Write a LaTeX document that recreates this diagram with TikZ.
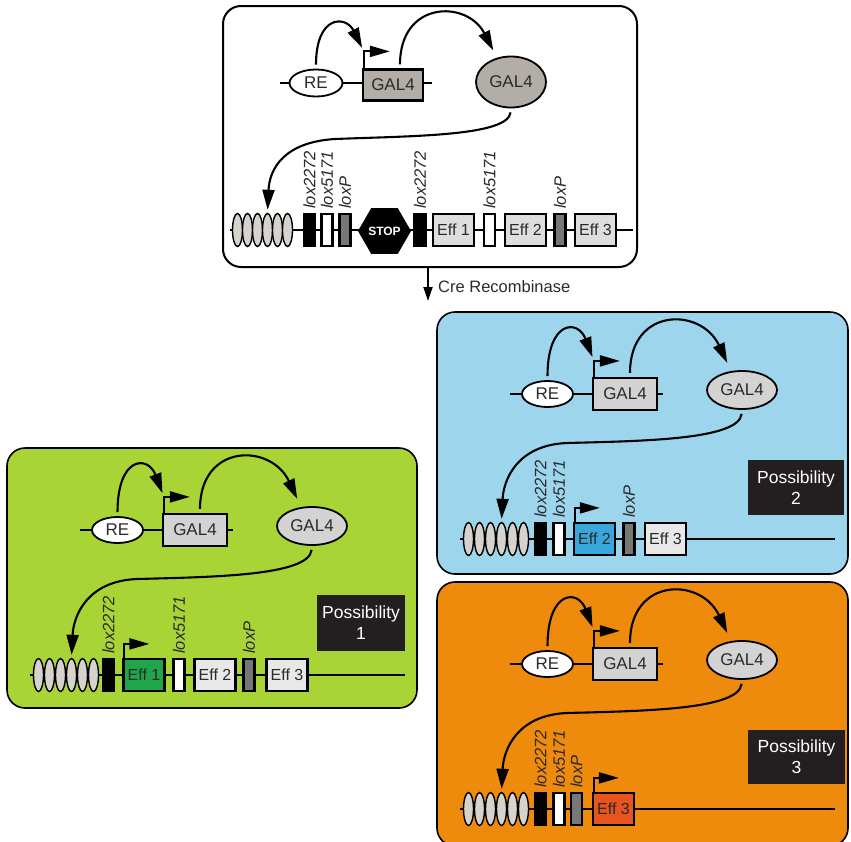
\documentclass[tikz,border=0pt]{standalone}
\usepackage{fontspec}
\setmainfont{Liberation Sans}
\usetikzlibrary{shapes.geometric,arrows.meta}

\definecolor{panelgreen}{HTML}{A8D436}
\definecolor{panelblue}{HTML}{9DD5EC}
\definecolor{panelorange}{HTML}{EE8A0C}
\definecolor{effgreen}{HTML}{1FA64B}
\definecolor{effblue}{HTML}{3AA7DC}
\definecolor{effred}{HTML}{E8541E}
\definecolor{galdark}{HTML}{B3ADA7}
\definecolor{gallight}{HTML}{D3D3D3}
\definecolor{ovalfill}{HTML}{D6D2CE}
\definecolor{effgray}{HTML}{DEDEDE}
\definecolor{efflight}{HTML}{E8E8E8}
\definecolor{loxgray}{HTML}{777777}
\definecolor{possfill}{HTML}{231F20}
\definecolor{txtgray}{HTML}{2A2A2A}

% upper regulator (RE -> GAL4 -> GAL4 protein) plus the UAS row of a result panel
\newcommand\driverunit[1]{%
  \draw[dna] (73,82) -- (226,82);
  \draw[dna] (23,227) -- (398,227);
  \foreach \k in {1,...,6} {\node[oval] (#1ov\k) at ({20.5+11*\k},227) {};}
  \node[renode, minimum width=51pt, minimum height=26pt] (#1re) at (110.5,82) {RE};
  \node[genebox, fill=gallight, minimum width=64pt, minimum height=32pt] (#1gene) at (188,82) {GAL4};
  \coordinate (#1bend) at ([xshift=2pt,yshift=16pt]#1gene.north west);
  \draw[promoter] ([xshift=2pt]#1gene.north west) -- (#1bend) -- ++(26,0);
  \node[protnode, fill=gallight, minimum width=70pt, minimum height=38pt] (#1prot) at (305,78) {GAL4};
  \draw[curvearrow, shorten >=4pt] (#1re.north) .. controls +(0,-60) and +(-16,-42) .. (#1bend);
  \draw[curvearrow, shorten >=9pt] ([xshift=5pt]#1gene.north) .. controls +(0,-70) and +(-30,-64) .. (#1prot.120);
  \coordinate (#1sweep) at (130,131);
  \draw[curvearrow, shorten >=3pt] (#1prot.south) .. controls +(-3,30) and +(75,-2) .. (#1sweep)
        .. controls +(-50,2) and +(2,-42) .. (#1ov4.north);
}

\begin{document}
\begin{tikzpicture}[x=1pt,y=-1pt,
  dna/.style={line width=2pt},
  panel/.style={draw=black, line width=1.6pt, rounded corners=18pt, inner sep=0pt},
  elem/.style={draw=black, line width=2.2pt, inner sep=0pt, minimum height=32pt},
  loxbox/.style={elem, minimum width=11pt},
  effbox/.style={elem, minimum width=41pt, text=txtgray, font=\fontsize{16}{16}\selectfont},
  genebox/.style={draw=black, line width=2.2pt, inner sep=0pt, text=txtgray, font=\fontsize{17}{18}\selectfont},
  oval/.style={ellipse, draw=black, line width=1.4pt, fill=ovalfill, minimum width=10pt, minimum height=33pt, inner sep=0pt},
  renode/.style={ellipse, draw=black, line width=1.8pt, fill=white, inner sep=0pt, text=txtgray, font=\fontsize{17}{18}\selectfont},
  protnode/.style={ellipse, draw=black, line width=1.8pt, inner sep=0pt, text=txtgray, font=\fontsize{17}{18}\selectfont},
  stopnode/.style={regular polygon, regular polygon sides=6, minimum size=53pt, inner sep=0pt, fill=black, text=white, font=\bfseries\fontsize{12}{12}\selectfont},
  curvearrow/.style={line width=2.1pt, -{Triangle[length=20pt,width=12pt]}, shorten <=4pt},
  promoter/.style={line width=2.1pt, -{Triangle[length=20pt,width=11pt]}},
  loxlabel/.style={rotate=90, anchor=west, inner sep=0pt, text=txtgray, font=\fontsize{16.5}{17}\selectfont\itshape},
  possbox/.style={fill=possfill, text=white, align=center, inner sep=0pt, font=\fontsize{17.5}{21}\selectfont}
]
\useasboundingbox (0,0) rectangle (851,841);

% ---------- panels ----------
\node[panel, fill=white, line width=2pt, minimum width=414pt, minimum height=261pt] (top) at (430,136.5) {};
\node[panel, fill=panelgreen, minimum width=410pt, minimum height=260pt] (green) at (212,578) {};
\node[panel, fill=panelblue, minimum width=411pt, minimum height=262pt] (blue) at (642.5,443) {};
\node[panel, fill=panelorange, minimum width=411pt, minimum height=264pt] (orange) at (642.5,714) {};

% ---------- starting construct ----------
\draw[dna] (280,83) -- (432,83);
\draw[dna] (230,230) -- (633,230);
\foreach \k in {1,...,6} {\node[oval] (t-ov\k) at ({227.5+10*\k},230) {};}
\node[renode, minimum width=53pt, minimum height=27pt] (t-re) at (316,83) {RE};
\node[genebox, fill=galdark, minimum width=60pt, minimum height=31pt] (t-gene) at (393,85) {GAL4};
\coordinate (t-bend) at ([xshift=2pt,yshift=17pt]t-gene.north west);
\draw[promoter] ([xshift=2pt]t-gene.north west) -- (t-bend) -- ++(26,0);
\node[protnode, fill=galdark, minimum width=70pt, minimum height=51pt] (t-prot) at (511,82) {GAL4};
\draw[curvearrow, shorten >=4pt] (t-re.north) .. controls +(0,-54) and +(-18,-36) .. (t-bend);
\draw[curvearrow, shorten >=8pt] ([xshift=7pt]t-gene.north) .. controls +(0,-68) and +(-30,-58) .. (t-prot.120);
\coordinate (t-sweep) at (335,139);
\draw[curvearrow, shorten >=3pt] (t-prot.south) .. controls +(-3,28) and +(75,-3) .. (t-sweep)
      .. controls +(-50,3) and +(2,-45) .. (t-ov4.north);

\node[loxbox, fill=black] (t-a1) at (309.5,230) {};
\node[loxbox, fill=white] (t-b1) at (327,230) {};
\node[loxbox, fill=loxgray] (t-c1) at (345,230) {};
\node[stopnode] (t-stop) at (384.5,231) {STOP};
\node[loxbox, fill=black] (t-a2) at (420,230) {};
\node[effbox, fill=effgray] (t-e1) at (453.5,230) {Eff 1};
\node[loxbox, fill=white] (t-b2) at (489.5,230) {};
\node[effbox, fill=effgray] (t-e2) at (525.5,230) {Eff 2};
\node[loxbox, fill=loxgray] (t-c2) at (560,230) {};
\node[effbox, fill=effgray] (t-e3) at (595.5,230) {Eff 3};
\node[loxlabel] (t-l1) at (309.5,209) {lox2272};
\node[loxlabel] (t-l2) at (327,209) {lox5171};
\node[loxlabel] (t-l3) at (345,209) {loxP};
\node[loxlabel] (t-l4) at (420,209) {lox2272};
\node[loxlabel] (t-l5) at (489.5,209) {lox5171};
\node[loxlabel] (t-l6) at (560,209) {loxP};

% ---------- recombination step ----------
\coordinate (creend) at (428,301);
\draw[line width=1.8pt, -{Triangle[length=14pt,width=9pt]}] ([xshift=-2pt]top.south) -- (creend);
\node[anchor=west, inner sep=0pt, text=txtgray, font=\fontsize{16.5}{17}\selectfont] (cre) at (438,287) {Cre Recombinase};

% ---------- possibility 1 ----------
\begin{scope}[shift={(7,448)}]
  \driverunit{g-}
  \node[loxbox, fill=black] (g-a) at (101.5,227) {};
  \node[effbox, fill=effgreen] (g-e1) at (137,227) {Eff 1};
  \draw[promoter] ([xshift=2pt]g-e1.north west) -- ++(0,-14) -- ++(25,0);
  \node[loxbox, fill=white] (g-b) at (172,227) {};
  \node[effbox, fill=efflight] (g-e2) at (208,227) {Eff 2};
  \node[loxbox, fill=loxgray] (g-c) at (242,227) {};
  \node[effbox, fill=efflight] (g-e3) at (280,227) {Eff 3};
  \node[loxlabel] (g-l1) at (101.5,206) {lox2272};
  \node[loxlabel] (g-l2) at (172,206) {lox5171};
  \node[loxlabel] (g-l3) at (242,206) {loxP};
  \node[possbox, minimum width=88pt, minimum height=56pt] (g-poss) at (354,175) {Possibility\\1};
\end{scope}

% ---------- possibility 2 ----------
\begin{scope}[shift={(437,312)}]
  \driverunit{b-}
  \node[loxbox, fill=black] (b-a) at (103.5,227) {};
  \node[loxbox, fill=white] (b-b) at (122,227) {};
  \node[effbox, fill=effblue] (b-e2) at (157.5,227) {Eff 2};
  \draw[promoter] ([xshift=2pt]b-e2.north west) -- ++(0,-14) -- ++(25,0);
  \node[loxbox, fill=loxgray] (b-c) at (192,227) {};
  \node[effbox, fill=efflight] (b-e3) at (228.5,227) {Eff 3};
  \node[loxlabel] (b-l1) at (103.5,206) {lox2272};
  \node[loxlabel] (b-l2) at (122,206) {lox5171};
  \node[loxlabel] (b-l3) at (192,206) {loxP};
  \node[possbox, minimum width=96pt, minimum height=55pt] (b-poss) at (359,175.5) {Possibility\\2};
\end{scope}

% ---------- possibility 3 ----------
\begin{scope}[shift={(437,582)}]
  \driverunit{o-}
  \node[loxbox, fill=black] (o-a) at (103.5,227) {};
  \node[loxbox, fill=white] (o-b) at (122,227) {};
  \node[loxbox, fill=loxgray] (o-c) at (139.5,227) {};
  \node[effbox, fill=effred] (o-e3) at (176.5,227) {Eff 3};
  \draw[promoter] ([xshift=2pt]o-e3.north west) -- ++(0,-14) -- ++(25,0);
  \node[loxlabel] (o-l1) at (103.5,206) {lox2272};
  \node[loxlabel] (o-l2) at (122,206) {lox5171};
  \node[loxlabel] (o-l3) at (139.5,206) {loxP};
  \node[possbox, minimum width=97pt, minimum height=54pt] (o-poss) at (359.5,174.5) {Possibility\\3};
\end{scope}
\end{tikzpicture}
\end{document}
